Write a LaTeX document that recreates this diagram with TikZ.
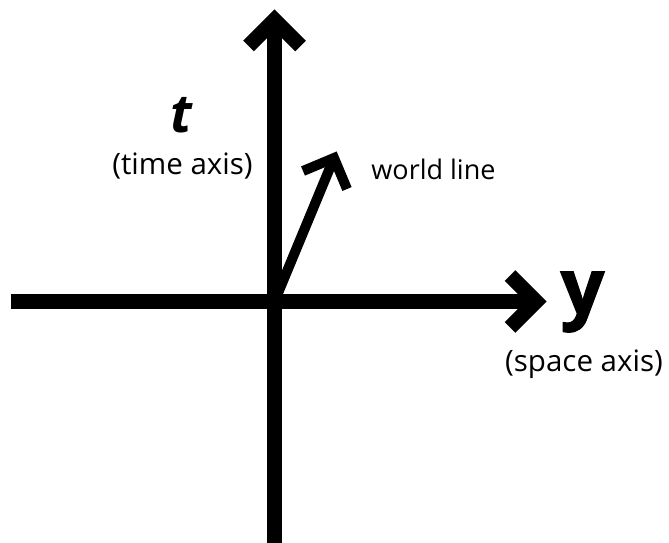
\documentclass[tikz,border=0pt]{standalone}
\usepackage{fontspec}
\setmainfont{Open Sans}
\newfontfamily\heavyfont{Open Sans}[BoldFeatures={FakeBold=1.5}]
\usetikzlibrary{calc}
\tikzset{
  axis/.style={line width=15pt, draw=black, line join=miter, line cap=butt},
  wline/.style={line width=10pt, draw=black, line join=miter, line cap=butt},
  lbl/.style={inner sep=0pt, font=\fontsize{29.5}{32}\selectfont},
  varlbl/.style={inner sep=0pt}
}
\begin{document}
\begin{tikzpicture}[x=1pt,y=-1pt]
\useasboundingbox (0,0) rectangle (669,543);
\coordinate (O) at (274.5,301.5);
\coordinate (left) at (11,301.5);
\coordinate (ytip) at (536,301.5);
\coordinate (bottom) at (274.5,550);
\coordinate (ttip) at (274.5,20);
\coordinate (wtip) at (334,158);
% axes
\draw[axis] (left) -- (ytip);
\draw[axis] ($(ytip)+(-26,-26)$) -- (ytip) -- ($(ytip)+(-26,26)$);
\draw[axis] (bottom) -- (ttip);
\draw[axis] ($(ttip)+(-26,26)$) -- (ttip) -- ($(ttip)+(26,26)$);
% world line
\draw[wline] (O) -- (wtip);
\draw[wline] ($(wtip)+(-31,13)$) -- (wtip) -- ($(wtip)+(13,31)$);
% labels
\node[varlbl, font=\heavyfont\fontsize{53}{56}\selectfont\bfseries\itshape] (tname) at (181,115.5) {t};
\node[lbl] (tdesc) at (182.5,166) {(time axis)};
\node[varlbl, font=\heavyfont\fontsize{77}{80}\selectfont\bfseries] (yname) at (582.5,302) {y};
\node[lbl] (ydesc) at (584,364) {(space axis)};
\node[lbl, font=\fontsize{27}{30}\selectfont] (wdesc) at (433.5,169.5) {world line};
\end{tikzpicture}
\end{document}
